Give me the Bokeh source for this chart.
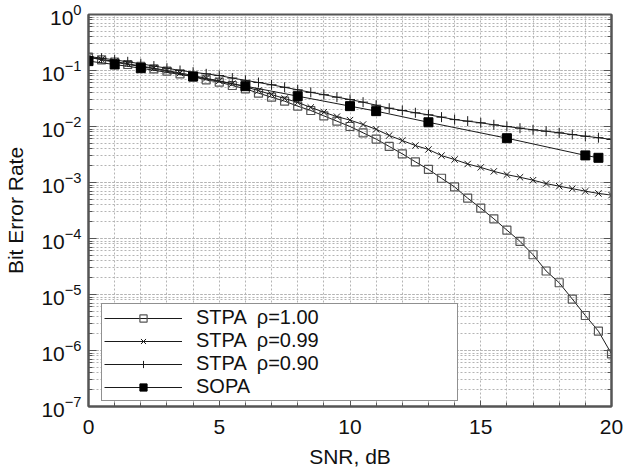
from bokeh.plotting import figure
from bokeh.models import (Range1d, FixedTicker, LogAxis, LogTicker, Legend,
                          LegendItem, ColumnDataSource)
from bokeh.embed import file_html
from bokeh.resources import INLINE

# ---------------- data ----------------
snr = [0.0, 0.5, 1.0, 1.5, 2.0, 2.5, 3.0, 3.5, 4.0, 4.5, 5.0, 5.5, 6.0, 6.5,
       7.0, 7.5, 8.0, 8.5, 9.0, 9.5, 10.0, 10.5, 11.0, 11.5, 12.0, 12.5, 13.0,
       13.5, 14.0, 14.5, 15.0, 15.5, 16.0, 16.5, 17.0, 17.5, 18.0, 18.5, 19.0,
       19.5, 20.0]

ber_stpa_100 = [0.173, 0.155, 0.141, 0.128, 0.118, 0.107, 0.0973, 0.0871,
                0.0771, 0.0681, 0.0619, 0.0540, 0.0471, 0.0394, 0.0334,
                0.0283, 0.0231, 0.0193, 0.0155, 0.01245, 0.0100, 0.00771,
                0.00596, 0.00440, 0.00325, 0.00234, 0.00171, 0.00119,
                0.000832, 0.000525, 0.000348, 0.000225, 0.000141, 8.9e-5,
                5.13e-5, 2.63e-5, 1.62e-5, 8.3e-6, 4.22e-6, 2.21e-6, 8.7e-7]

ber_stpa_099 = [0.174, 0.158, 0.145, 0.132, 0.120, 0.110, 0.100, 0.0902,
                0.0813, 0.0724, 0.0653, 0.0582, 0.0513, 0.0437, 0.0372,
                0.0316, 0.0269, 0.0219, 0.0180, 0.0150, 0.0130, 0.01086,
                0.00891, 0.00692, 0.00562, 0.00457, 0.00389, 0.00302,
                0.00257, 0.00214, 0.00186, 0.00158, 0.00138, 0.00124,
                0.00110, 0.000955, 0.000859, 0.000776, 0.000700, 0.000638,
                0.000596]

ber_stpa_090 = [0.178, 0.166, 0.155, 0.143, 0.132, 0.120, 0.110, 0.100,
                0.0933, 0.0871, 0.0813, 0.0733, 0.0668, 0.0610, 0.0556,
                0.0501, 0.0452, 0.0407, 0.0370, 0.0334, 0.0303, 0.0272,
                0.0240, 0.0212, 0.0193, 0.0176, 0.0162, 0.0147, 0.0133,
                0.01245, 0.01164, 0.01072, 0.0100, 0.00933, 0.00873,
                0.00824, 0.00771, 0.00719, 0.00671, 0.00631, 0.00586]

snr_sopa = [0, 1, 2, 4, 6, 8, 10, 11, 13, 16, 19, 19.5]
ber_sopa = [0.147, 0.128, 0.110, 0.078, 0.0525, 0.0348, 0.0231, 0.0188,
            0.0119, 0.00618, 0.00305, 0.00276]

labels = ["STPA \u00a0\u03c1=1.00", "STPA \u00a0\u03c1=0.99",
          "STPA \u00a0\u03c1=0.90", "SOPA"]
x_major = [0, 5, 10, 15, 20]
x_minor = list(range(0, 21))

FONT = "Liberation Sans"
GRID = "#b4b4b4"
FRAME = "#555555"

p = figure(frame_width=523, frame_height=392, y_axis_type="log",
           x_range=Range1d(0, 20), y_range=Range1d(1e-7, 1),
           output_backend="svg", toolbar_location=None,
           min_border_left=88, min_border_right=14, min_border_top=14,
           min_border_bottom=67, background_fill_color="white",
           border_fill_color="white")

p.outline_line_color = FRAME
p.outline_line_width = 2

# grid
p.xgrid.ticker = FixedTicker(ticks=x_minor)
p.xgrid.grid_line_color = GRID
p.xgrid.grid_line_dash = "2 2"
p.ygrid.grid_line_color = GRID
p.ygrid.grid_line_dash = "2 2"
p.ygrid.minor_grid_line_color = GRID
p.ygrid.minor_grid_line_dash = "2 2"

# x axis
xa = p.xaxis[0]
xa.ticker = FixedTicker(ticks=x_major, minor_ticks=x_minor)
xa.axis_label = "SNR, dB"
for ax in [xa, p.yaxis[0]]:
    ax.axis_label_text_font = FONT
    ax.axis_label_text_font_size = "21px"
    ax.axis_label_text_font_style = "normal"
    ax.axis_label_text_color = "#111111"
    ax.major_label_text_font = FONT
    ax.major_label_text_font_size = "21px"
    ax.major_label_text_color = "#111111"
    ax.axis_line_color = FRAME
    ax.axis_line_width = 2
    ax.major_tick_line_color = FRAME
    ax.minor_tick_line_color = FRAME
    ax.major_tick_out = 0
    ax.minor_tick_out = 0
xa.major_tick_in = 6
xa.minor_tick_in = 4
xa.major_label_standoff = 13
xa.axis_label_standoff = 8

ya = p.yaxis[0]
ya.axis_label = "Bit Error Rate"
ya.major_tick_in = 8
ya.minor_tick_in = 4
ya.major_label_standoff = 7
ya.axis_label_standoff = 11

# right axis: ticks only (labels made invisible)
ra = LogAxis(ticker=LogTicker(), major_label_text_font_size="1px",
             major_label_text_alpha=0,
             major_tick_in=8, major_tick_out=0, minor_tick_in=4,
             minor_tick_out=0, axis_line_color=FRAME, axis_line_width=2,
             major_tick_line_color=FRAME, minor_tick_line_color=FRAME,
             major_label_standoff=0)
p.add_layout(ra, "right")

LINE = "#1a1a1a"

s1 = ColumnDataSource(dict(x=snr, y=ber_stpa_100))
s2 = ColumnDataSource(dict(x=snr, y=ber_stpa_099))
s3 = ColumnDataSource(dict(x=snr, y=ber_stpa_090))
s4 = ColumnDataSource(dict(x=snr_sopa, y=ber_sopa))

l1 = p.line("x", "y", source=s1, line_color=LINE, line_width=1)
m1 = p.scatter("x", "y", source=s1, marker="square", size=8,
               fill_color=None, line_color="#555555", line_width=1.2)
l2 = p.line("x", "y", source=s2, line_color=LINE, line_width=1)
m2 = p.scatter("x", "y", source=s2, marker="x", size=9,
               line_color=LINE, line_width=1)
l3 = p.line("x", "y", source=s3, line_color=LINE, line_width=1)
m3 = p.scatter("x", "y", source=s3, marker="cross", size=10,
               line_color=LINE, line_width=1)
l4 = p.line("x", "y", source=s4, line_color=LINE, line_width=1)
m4 = p.scatter("x", "y", source=s4, marker="square", size=9,
               fill_color="black", line_color="black")

legend = Legend(items=[
    LegendItem(label=labels[0], renderers=[l1, m1]),
    LegendItem(label=labels[1], renderers=[l2, m2]),
    LegendItem(label=labels[2], renderers=[l3, m3]),
    LegendItem(label=labels[3], renderers=[l4, m4]),
], location=(13, 5))
legend.label_text_font = FONT
legend.label_text_font_size = "20px"
legend.label_text_color = "#111111"
legend.glyph_width = 78
legend.glyph_height = 18
legend.label_height = 18
legend.label_width = 259
legend.label_standoff = 14
legend.spacing = 0
legend.padding = 2
legend.margin = 0
legend.border_line_color = "#222222"
legend.border_line_width = 1
legend.background_fill_color = "white"
legend.background_fill_alpha = 1
p.add_layout(legend)

open("out.html", "w").write(file_html(p, INLINE))
